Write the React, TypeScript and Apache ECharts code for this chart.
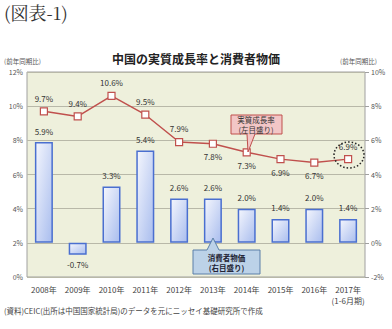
import React, { useEffect, useRef } from "react";
import * as echarts from "echarts";

const categories = ["2008年", "2009年", "2010年", "2011年", "2012年", "2013年", "2014年", "2015年", "2016年", "2017年\n(1-6月期)"];
const gdpGrowth = [9.7, 9.4, 10.6, 9.5, 7.9, 7.8, 7.3, 6.9, 6.7, 6.9];
const cpi = [5.9, -0.7, 3.3, 5.4, 2.6, 2.6, 2.0, 1.4, 2.0, 1.4];
const gdpLabelBelow = [false, false, false, false, false, true, true, true, true, false];

const FONT = "'Noto Sans CJK JP', 'Noto Sans', sans-serif";

export default function App() {
  const ref = useRef<HTMLDivElement>(null);
  useEffect(() => {
    if (!ref.current) return;
    const chart = echarts.init(ref.current, null, { renderer: "svg" });
    const option: any = {
      animation: false,
      backgroundColor: "#ffffff",
      textStyle: { fontFamily: FONT },
      grid: {
        left: 27, right: 27, top: 72, bottom: 52,
        show: true, backgroundColor: "#eef0dc", borderColor: "#a0a0a0", borderWidth: 1,
      },
      xAxis: {
        type: "category",
        data: categories,
        axisLine: { show: false },
        axisTick: { show: false },
        axisLabel: { interval: 0, fontSize: 8, color: "#444", margin: 7, lineHeight: 11, verticalAlign: "top", fontFamily: FONT },
      },
      yAxis: [
        {
          type: "value", min: 0, max: 12, interval: 2,
          axisLabel: { formatter: "{value}%", fontSize: 7, color: "#555", margin: 4, fontFamily: FONT },
          axisLine: { show: false }, axisTick: { show: false },
          splitLine: { lineStyle: { color: "#b8b8a8", width: 1 } },
        },
        {
          type: "value", min: -2, max: 10, interval: 2,
          axisLabel: { formatter: "{value}%", fontSize: 7, color: "#555", margin: 6, fontFamily: FONT },
          axisLine: { show: false },
          axisTick: { show: true, length: 4, lineStyle: { color: "#a0a0a0" } },
          splitLine: { show: false },
        },
      ],
      series: [
        {
          type: "bar",
          yAxisIndex: 1,
          data: cpi.map((v) => ({
            value: v,
            label: { position: v < 0 ? "bottom" : "top", distance: v < 0 ? 6 : 7 },
          })),
          barWidth: 18,
          itemStyle: {
            color: new echarts.graphic.LinearGradient(0, 0, 1, 1, [
              { offset: 0, color: "#f4f6fd" },
              { offset: 1, color: "#a9bdee" },
            ]),
            borderColor: "#4a6fd0",
            borderWidth: 1.5,
          },
          label: {
            show: true,
            formatter: (p: any) => p.value.toFixed(1) + "%",
            fontSize: 8, color: "#333", fontFamily: FONT,
          },
        },
        {
          type: "line",
          yAxisIndex: 0,
          data: gdpGrowth.map((v, i) => ({
            value: v,
            label: { position: gdpLabelBelow[i] ? "bottom" : "top", distance: 5 },
          })),
          symbol: "rect",
          symbolSize: 7,
          lineStyle: { color: "#c0504d", width: 1.5 },
          itemStyle: { color: "#ffffff", borderColor: "#c0504d", borderWidth: 1.2 },
          label: {
            show: true,
            formatter: (p: any) => p.value.toFixed(1) + "%",
            fontSize: 8, color: "#333", fontFamily: FONT,
          },
          z: 5,
        },
      ],
      graphic: [
        { type: "text", left: 4, top: 3, style: { text: "(図表-1)", fontSize: 18, fill: "#333", fontFamily: "'Noto Serif CJK JP', 'DejaVu Serif', serif" } },
        { type: "text", x: 196, y: 58, style: { text: "中国の実質成長率と消費者物価", fontSize: 12, fontWeight: "bold", fill: "#222", align: "center", verticalAlign: "middle", fontFamily: FONT } },
        { type: "text", x: 4, y: 61, style: { text: "(前年同期比)", fontSize: 6.5, fill: "#555", verticalAlign: "middle", fontFamily: FONT } },
        { type: "text", x: 340, y: 61, style: { text: "(前年同期比)", fontSize: 6.5, fill: "#555", verticalAlign: "middle", fontFamily: FONT } },
        { type: "text", x: 4, y: 310, style: { text: "(資料)CEIC(出所は中国国家統計局)のデータを元にニッセイ基礎研究所で作成", fontSize: 7.5, fill: "#444", verticalAlign: "middle", fontFamily: FONT } },
        // GDP callout
        {
          type: "polygon", z: 20,
          shape: { points: [[231, 115], [282, 115], [282, 134], [255, 134], [248, 152], [247, 134], [231, 134]] },
          style: { fill: "#f2c6c6", stroke: "#c0504d", lineWidth: 1 },
        },
        { type: "text", z: 21, x: 256, y: 124.5, style: { text: "実質成長率\n(左目盛り)", fontSize: 7.5, lineHeight: 10, fill: "#333", align: "center", verticalAlign: "middle", fontFamily: FONT } },
        // CPI callout
        {
          type: "polygon", z: 20,
          shape: { points: [[193, 250], [207, 250], [213, 238], [219, 250], [260, 250], [260, 274], [193, 274]] },
          style: { fill: "#bcd2e8", stroke: "#5a7fa8", lineWidth: 1 },
        },
        { type: "text", z: 21, x: 226.5, y: 262, style: { text: "消費者物価\n(右目盛り)", fontSize: 7.5, lineHeight: 10, fill: "#223", fontWeight: "bold", align: "center", verticalAlign: "middle", fontFamily: FONT } },
        // dotted circle
        {
          type: "ellipse", z: 20,
          shape: { cx: 349, cy: 155, rx: 15, ry: 13 },
          style: { fill: "none", stroke: "#222", lineWidth: 1.5, lineDash: [1.5, 2] },
        },
      ],
    };
    chart.setOption(option);
    return () => chart.dispose();
  }, []);
  return <div ref={ref} style={{ width: 392, height: 329, position: "absolute", left: 0, top: 0 }} />;
}
